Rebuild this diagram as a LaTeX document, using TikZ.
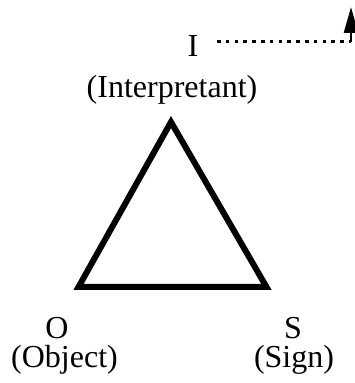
\documentclass[tikz,border=0pt]{standalone}
\usepackage{fontspec}
\setmainfont{Liberation Serif}
\usetikzlibrary{arrows.meta}
\begin{document}
\begin{tikzpicture}[x=1pt,y=1pt,
  lbl/.style={inner sep=0pt, anchor=base, font=\fontsize{32}{38}\selectfont},
  tri/.style={line width=6pt, line join=miter},
  dots/.style={line width=3pt, dash pattern=on 3.5pt off 5.3pt}]
\useasboundingbox (0,0) rectangle (354,383);
% labels (y = 383 - pixel y)
\node[lbl] (I) at (193,326) {I};
\node[lbl] (Ilabel) at (172,285) {(Interpretant)};
\node[lbl] (O) at (57,44) {O};
\node[lbl] (Olabel) at (64.5,15) {(Object)};
\node[lbl] (S) at (293,44) {S};
\node[lbl] (Slabel) at (294,15) {(Sign)};
% triangle
\coordinate (apex) at (171,261);
\coordinate (left) at (78.5,96);
\coordinate (right) at (266.5,96);
\draw[tri] (apex) -- (left) -- (right) -- cycle;
% dotted arrow
\coordinate (dstart) at (217,341);
\coordinate (dcorner) at (351,341);
\coordinate (dtip) at (351,376);
\draw[dots] (dstart) -- (dcorner);
\draw[line width=2.6pt, -{Triangle[length=26pt,width=14pt]}] (dcorner) -- (dtip);
\end{tikzpicture}
\end{document}
